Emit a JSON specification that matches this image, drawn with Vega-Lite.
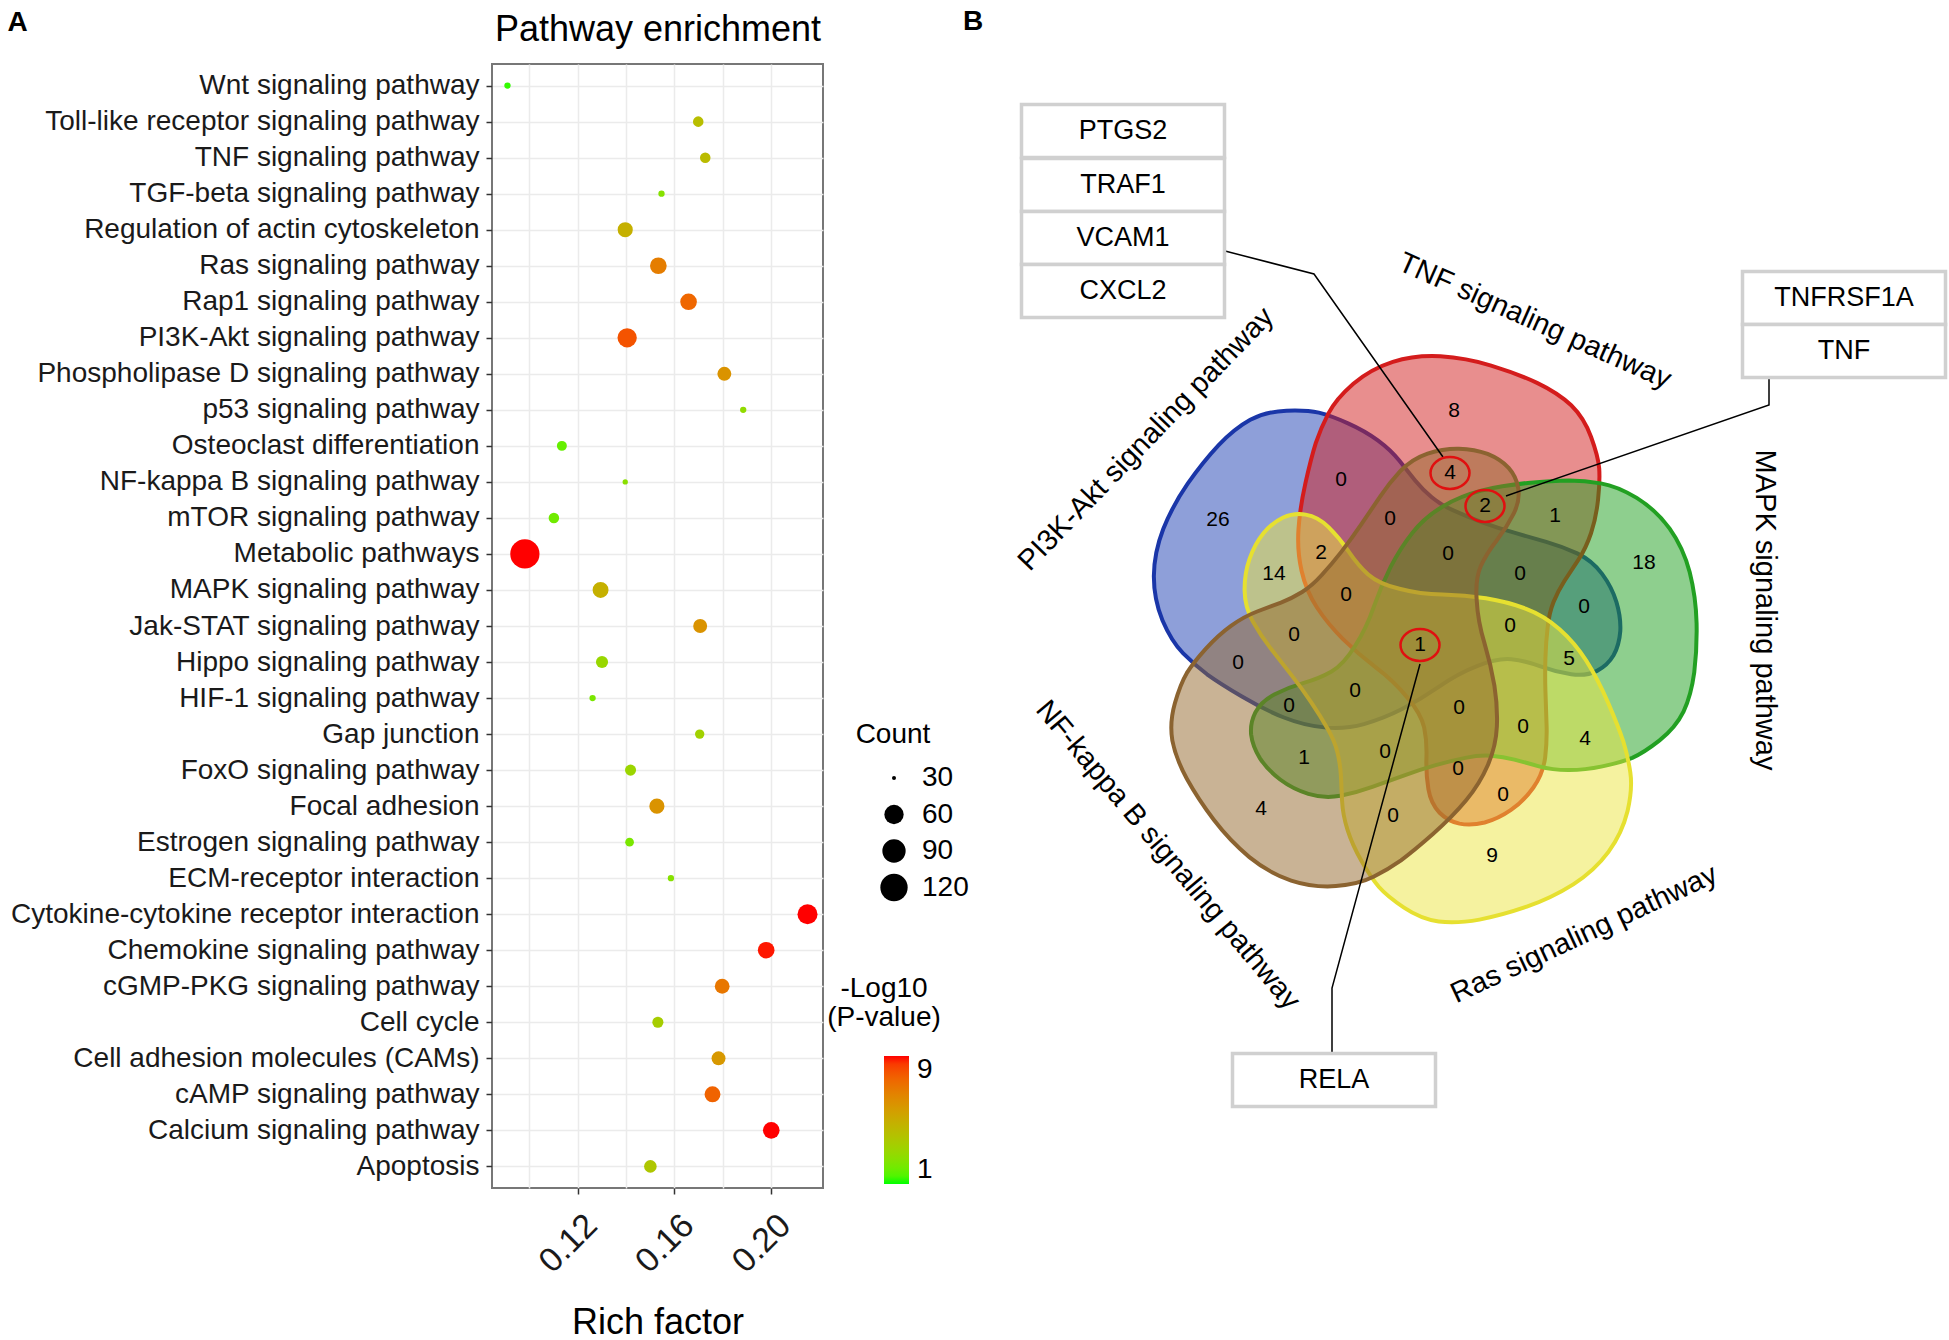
{
  "$schema": "https://vega.github.io/schema/vega-lite/v6.json",
  "padding": {"left": 6, "top": 7, "right": 0, "bottom": 0},
  "background": "white",
  "spacing": 138,
  "bounds": "flush",
  "config": {
    "font": "Liberation Sans",
    "view": {"stroke": "#777777", "strokeWidth": 2},
    "axis": {"labelFont": "Liberation Sans", "titleFont": "Liberation Sans"},
    "legend": {"labelFont": "Liberation Sans", "titleFont": "Liberation Sans"},
    "title": {"font": "Liberation Sans"},
    "text": {"font": "Liberation Sans"}
  },
  "datasets": {
    "enrich": [
      {"pathway": "Wnt signaling pathway", "rich": 0.0910, "count": 32, "logp": 1.2},
      {"pathway": "Toll-like receptor signaling pathway", "rich": 0.1699, "count": 38, "logp": 4.2},
      {"pathway": "TNF signaling pathway", "rich": 0.1728, "count": 38, "logp": 4.3},
      {"pathway": "TGF-beta signaling pathway", "rich": 0.1547, "count": 32, "logp": 2.5},
      {"pathway": "Regulation of actin cytoskeleton", "rich": 0.1397, "count": 48, "logp": 4.8},
      {"pathway": "Ras signaling pathway", "rich": 0.1534, "count": 52, "logp": 6.8},
      {"pathway": "Rap1 signaling pathway", "rich": 0.1659, "count": 52, "logp": 7.5},
      {"pathway": "PI3K-Akt signaling pathway", "rich": 0.1405, "count": 60, "logp": 8.0},
      {"pathway": "Phospholipase D signaling pathway", "rich": 0.1807, "count": 45, "logp": 6.0},
      {"pathway": "p53 signaling pathway", "rich": 0.1885, "count": 32, "logp": 2.8},
      {"pathway": "Osteoclast differentiation", "rich": 0.1135, "count": 37, "logp": 1.8},
      {"pathway": "NF-kappa B signaling pathway", "rich": 0.1397, "count": 31, "logp": 2.6},
      {"pathway": "mTOR signaling pathway", "rich": 0.1102, "count": 38, "logp": 2.0},
      {"pathway": "Metabolic pathways", "rich": 0.0982, "count": 134, "logp": 9.0},
      {"pathway": "MAPK signaling pathway", "rich": 0.1295, "count": 50, "logp": 4.8},
      {"pathway": "Jak-STAT signaling pathway", "rich": 0.1707, "count": 45, "logp": 6.0},
      {"pathway": "Hippo signaling pathway", "rich": 0.1301, "count": 41, "logp": 3.0},
      {"pathway": "HIF-1 signaling pathway", "rich": 0.1262, "count": 32, "logp": 2.2},
      {"pathway": "Gap junction", "rich": 0.1705, "count": 36, "logp": 3.3},
      {"pathway": "FoxO signaling pathway", "rich": 0.1419, "count": 39, "logp": 3.1},
      {"pathway": "Focal adhesion", "rich": 0.1528, "count": 48, "logp": 6.0},
      {"pathway": "Estrogen signaling pathway", "rich": 0.1415, "count": 35, "logp": 2.2},
      {"pathway": "ECM-receptor interaction", "rich": 0.1586, "count": 32, "logp": 2.5},
      {"pathway": "Cytokine-cytokine receptor interaction", "rich": 0.2151, "count": 65, "logp": 9.0},
      {"pathway": "Chemokine signaling pathway", "rich": 0.1980, "count": 52, "logp": 8.9},
      {"pathway": "cGMP-PKG signaling pathway", "rich": 0.1798, "count": 47, "logp": 7.0},
      {"pathway": "Cell cycle", "rich": 0.1532, "count": 39, "logp": 3.5},
      {"pathway": "Cell adhesion molecules (CAMs)", "rich": 0.1783, "count": 45, "logp": 5.8},
      {"pathway": "cAMP signaling pathway", "rich": 0.1758, "count": 50, "logp": 7.6},
      {"pathway": "Calcium signaling pathway", "rich": 0.2001, "count": 52, "logp": 9.0},
      {"pathway": "Apoptosis", "rich": 0.1501, "count": 42, "logp": 3.8}
    ],
    "sets": [
      {"set": "PI3K-Akt signaling pathway", "pos": 4, "cx": 1415, "cy": 639, "lx": 1145, "ly": 438},
      {"set": "TNF signaling pathway", "pos": 0, "cx": 1412, "cy": 630, "lx": 1534, "ly": 320},
      {"set": "MAPK signaling pathway", "pos": 1, "cx": 1419, "cy": 630, "lx": 1764, "ly": 609},
      {"set": "Ras signaling pathway", "pos": 2, "cx": 1433, "cy": 645, "lx": 1583, "ly": 933},
      {"set": "NF-kappa B signaling pathway", "pos": 3, "cx": 1432, "cy": 650, "lx": 1167, "ly": 854}
    ],
    "counts": [
      {"n": 8, "x": 1453, "y": 410, "hl": 0},
      {"n": 4, "x": 1449, "y": 472, "hl": 1},
      {"n": 0, "x": 1340, "y": 479, "hl": 0},
      {"n": 26, "x": 1217, "y": 519, "hl": 0},
      {"n": 2, "x": 1484, "y": 505, "hl": 1},
      {"n": 1, "x": 1554, "y": 515, "hl": 0},
      {"n": 0, "x": 1389, "y": 518, "hl": 0},
      {"n": 2, "x": 1320, "y": 552, "hl": 0},
      {"n": 14, "x": 1273, "y": 573, "hl": 0},
      {"n": 0, "x": 1447, "y": 553, "hl": 0},
      {"n": 18, "x": 1643, "y": 562, "hl": 0},
      {"n": 0, "x": 1519, "y": 573, "hl": 0},
      {"n": 0, "x": 1345, "y": 594, "hl": 0},
      {"n": 0, "x": 1583, "y": 606, "hl": 0},
      {"n": 0, "x": 1293, "y": 634, "hl": 0},
      {"n": 0, "x": 1509, "y": 625, "hl": 0},
      {"n": 1, "x": 1419, "y": 644, "hl": 1},
      {"n": 0, "x": 1237, "y": 662, "hl": 0},
      {"n": 5, "x": 1568, "y": 658, "hl": 0},
      {"n": 0, "x": 1354, "y": 690, "hl": 0},
      {"n": 0, "x": 1288, "y": 705, "hl": 0},
      {"n": 0, "x": 1458, "y": 707, "hl": 0},
      {"n": 0, "x": 1522, "y": 726, "hl": 0},
      {"n": 1, "x": 1303, "y": 757, "hl": 0},
      {"n": 0, "x": 1384, "y": 751, "hl": 0},
      {"n": 4, "x": 1584, "y": 738, "hl": 0},
      {"n": 0, "x": 1457, "y": 768, "hl": 0},
      {"n": 0, "x": 1502, "y": 794, "hl": 0},
      {"n": 4, "x": 1260, "y": 808, "hl": 0},
      {"n": 0, "x": 1392, "y": 815, "hl": 0},
      {"n": 9, "x": 1491, "y": 855, "hl": 0}
    ],
    "leaders": [
      {"line": "a", "seq": 1, "x": 1224, "y": 250},
      {"line": "a", "seq": 2, "x": 1313, "y": 273},
      {"line": "a", "seq": 3, "x": 1442, "y": 456},
      {"line": "b", "seq": 1, "x": 1768, "y": 378},
      {"line": "b", "seq": 2, "x": 1768, "y": 404},
      {"line": "b", "seq": 3, "x": 1505, "y": 495},
      {"line": "c", "seq": 1, "x": 1331, "y": 1053},
      {"line": "c", "seq": 2, "x": 1331, "y": 987},
      {"line": "c", "seq": 3, "x": 1419, "y": 663}
    ],
    "genes": [
      {"gene": "PTGS2", "x": 1122, "y": 130},
      {"gene": "TRAF1", "x": 1122, "y": 184},
      {"gene": "VCAM1", "x": 1122, "y": 237},
      {"gene": "CXCL2", "x": 1122, "y": 290},
      {"gene": "TNFRSF1A", "x": 1843, "y": 297},
      {"gene": "TNF", "x": 1843, "y": 350},
      {"gene": "RELA", "x": 1333, "y": 1079}
    ],
    "panel": [
      {"t": "B", "x": 962, "y": 7}
    ]
  },
  "hconcat": [
    {
      "width": 331,
      "height": 1124,
      "data": {"name": "enrich"},
      "resolve": {"axis": {"x": "independent"}},
      "layer": [
        {
          "mark": {"type": "circle", "opacity": 1},
          "encoding": {
            "y": {
              "field": "pathway", "type": "nominal", "sort": null,
              "scale": {"type": "point", "padding": 0.6},
              "axis": {
                "title": "A", "titleAngle": 0, "titleX": -485, "titleY": -56, "titleAlign": "left", "titleBaseline": "top",
                "titleFontSize": 28, "titleFontWeight": "bold", "titleColor": "#000000",
                "labelFontSize": 28, "labelColor": "#1a1a1a", "labelPadding": 7, "labelLimit": 800, "labelOverlap": false,
                "tickSize": 6, "tickColor": "#333333", "tickWidth": 1.5,
                "domain": false, "grid": true, "gridColor": "#ebebeb", "gridWidth": 1.5
              }
            },
            "x": {
              "field": "rich", "type": "quantitative",
              "scale": {"domain": [0.0846, 0.2215], "nice": false, "zero": false},
              "axis": {
                "orient": "bottom",
                "values": [0.10, 0.12, 0.14, 0.16, 0.18, 0.20],
                "labelExpr": "round(datum.value*100) % 4 == 0 ? format(datum.value, '.2f') : ''",
                "tickOpacity": {"condition": {"test": "round(datum.value*100) % 4 == 0", "value": 1}, "value": 0},
                "labelAngle": -45, "labelAlign": "right", "labelBaseline": "top", "labelFontSize": 34, "labelColor": "#1a1a1a",
                "labelPadding": 14, "labelOffset": 2, "labelFlush": false, "labelOverlap": false,
                "tickSize": 6, "tickColor": "#333333", "tickWidth": 1.5,
                "domain": false, "grid": true, "gridColor": "#ebebeb", "gridWidth": 1.5,
                "title": "Rich factor", "titleFontSize": 36, "titleFontWeight": "normal", "titleColor": "#000000",
                "titleY": 145, "titleBaseline": "alphabetic"
              }
            },
            "size": {
              "field": "count", "type": "quantitative",
              "scale": {"domain": [29, 30, 60, 90, 120, 150], "range": [3.8, 16, 372.5, 542.9, 745.2, 979.6]},
              "legend": {
                "title": "Count", "orient": "none", "legendX": 364, "legendY": 657, "values": [30, 60, 90, 120],
                "titleFontSize": 28, "titleFontWeight": "normal", "titleColor": "#000000", "titleAlign": "center", "titleAnchor": "start", "titlePadding": 15,
                "labelFontSize": 28, "labelColor": "#000000", "labelOffset": 14, "symbolOffset": -13, "rowPadding": 8.5,
                "symbolFillColor": "#000000", "symbolStrokeWidth": 0, "symbolType": "circle", "symbolOpacity": 1
              }
            },
            "color": {
              "field": "logp", "type": "quantitative",
              "scale": {"domain": [1, 9], "range": ["#00ff00", "#ff0000"], "interpolate": "lab", "clamp": true},
              "legend": {
                "title": ["-Log10", "(P-value)"], "orient": "none", "legendX": 335, "legendY": 911, "direction": "vertical",
                "values": [1, 9], "gradientLength": 128, "gradientThickness": 25, "gradientStrokeWidth": 0,
                "titleFontSize": 28, "titleFontWeight": "normal", "titleColor": "#000000", "titleAlign": "center", "titleAnchor": "start",
                "titleLineHeight": 29, "titlePadding": 24,
                "labelFontSize": 28, "labelColor": "#000000", "labelOffset": 8
              }
            }
          }
        },
        {
          "mark": {"type": "circle", "opacity": 0},
          "encoding": {
            "x": {
              "field": "rich", "type": "quantitative",
              "scale": {"domain": [0.0846, 0.2215], "nice": false, "zero": false},
              "axis": {
                "orient": "top", "labels": false, "ticks": false, "domain": false, "grid": false,
                "title": "Pathway enrichment", "titleFontSize": 36, "titleFontWeight": "normal", "titleColor": "#000000",
                "titleY": -24, "titleBaseline": "alphabetic"
              }
            }
          }
        }
      ]
    },
    {
      "width": 989,
      "height": 1277,
      "view": {"stroke": null},
      "resolve": {"scale": {"angle": "independent"}},
      "layer": [
        {
          "data": {"name": "sets"},
          "mark": {
            "type": "point",
            "shape": "M-0.072,-0.961 Q0.007,-0.986 0.098,-0.981 Q0.189,-0.975 0.279,-0.948 Q0.368,-0.921 0.443,-0.886 Q0.518,-0.850 0.565,-0.806 Q0.611,-0.761 0.636,-0.693 Q0.661,-0.625 0.665,-0.581 Q0.668,-0.536 0.661,-0.470 Q0.654,-0.404 0.636,-0.350 Q0.618,-0.296 0.591,-0.255 Q0.564,-0.214 0.541,-0.179 Q0.518,-0.143 0.502,-0.104 Q0.486,-0.064 0.481,-0.014 Q0.475,0.036 0.473,0.095 Q0.471,0.154 0.473,0.215 Q0.475,0.275 0.477,0.334 Q0.479,0.393 0.472,0.452 Q0.464,0.511 0.430,0.559 Q0.396,0.607 0.350,0.639 Q0.304,0.671 0.256,0.684 Q0.207,0.696 0.166,0.688 Q0.125,0.679 0.095,0.649 Q0.064,0.618 0.055,0.565 Q0.046,0.511 0.048,0.452 Q0.050,0.393 0.040,0.345 Q0.029,0.296 -0.020,0.238 Q-0.068,0.179 -0.132,0.131 Q-0.196,0.082 -0.250,0.029 Q-0.304,-0.025 -0.343,-0.084 Q-0.382,-0.143 -0.398,-0.215 Q-0.414,-0.286 -0.409,-0.363 Q-0.404,-0.439 -0.384,-0.529 Q-0.364,-0.618 -0.347,-0.672 Q-0.329,-0.725 -0.302,-0.777 Q-0.275,-0.829 -0.213,-0.883 Q-0.150,-0.936 -0.072,-0.961 Z",
            "filled": true, "size": 313600, "fillOpacity": 0.5, "strokeOpacity": 1, "strokeWidth": 4
          },
          "encoding": {
            "x": {"field": "cx", "type": "quantitative", "scale": {"domain": [960, 1949], "nice": false, "zero": false}, "axis": null},
            "y": {"field": "cy", "type": "quantitative", "scale": {"domain": [63, 1340], "nice": false, "zero": false, "reverse": true}, "axis": null},
            "angle": {"field": "pos", "type": "quantitative", "scale": {"domain": [0, 5], "range": [0, 360]}},
            "fill": {"field": "set", "type": "nominal", "legend": null,
              "scale": {"domain": ["PI3K-Akt signaling pathway", "TNF signaling pathway", "NF-kappa B signaling pathway", "MAPK signaling pathway", "Ras signaling pathway"],
                        "range": ["#1e40b4", "#d21e1e", "#93682c", "#1ea01e", "#ece640"]}},
            "stroke": {"field": "set", "type": "nominal", "legend": null,
              "scale": {"domain": ["PI3K-Akt signaling pathway", "TNF signaling pathway", "NF-kappa B signaling pathway", "MAPK signaling pathway", "Ras signaling pathway"],
                        "range": ["#1a36a8", "#d41c1c", "#8b6330", "#22a022", "#e6e030"]}}
          }
        },
        {
          "data": {"name": "leaders"},
          "mark": {"type": "line", "color": "#000000", "strokeWidth": 1.5},
          "encoding": {
            "x": {"field": "x", "type": "quantitative", "scale": {"domain": [960, 1949], "nice": false, "zero": false}, "axis": null},
            "y": {"field": "y", "type": "quantitative", "scale": {"domain": [63, 1340], "nice": false, "zero": false, "reverse": true}, "axis": null},
            "detail": {"field": "line", "type": "nominal"},
            "order": {"field": "seq", "type": "quantitative"}
          }
        },
        {
          "data": {"name": "genes"},
          "mark": {"type": "point", "shape": "M-1,-0.26L1,-0.26L1,0.26L-1,0.26Z", "filled": true, "fill": "#ffffff", "stroke": "#d0d0d0", "strokeWidth": 3.5, "size": 41209, "opacity": 1},
          "encoding": {
            "x": {"field": "x", "type": "quantitative", "scale": {"domain": [960, 1949], "nice": false, "zero": false}, "axis": null},
            "y": {"field": "y", "type": "quantitative", "scale": {"domain": [63, 1340], "nice": false, "zero": false, "reverse": true}, "axis": null}
          }
        },
        {
          "data": {"name": "genes"},
          "mark": {"type": "text", "fontSize": 27, "align": "center", "baseline": "middle", "color": "#000000"},
          "encoding": {
            "x": {"field": "x", "type": "quantitative", "scale": {"domain": [960, 1949], "nice": false, "zero": false}, "axis": null},
            "y": {"field": "y", "type": "quantitative", "scale": {"domain": [63, 1340], "nice": false, "zero": false, "reverse": true}, "axis": null},
            "text": {"field": "gene", "type": "nominal"}
          }
        },
        {
          "data": {"name": "counts"},
          "mark": {"type": "text", "fontSize": 21, "align": "center", "baseline": "middle", "color": "#000000"},
          "encoding": {
            "x": {"field": "x", "type": "quantitative", "scale": {"domain": [960, 1949], "nice": false, "zero": false}, "axis": null},
            "y": {"field": "y", "type": "quantitative", "scale": {"domain": [63, 1340], "nice": false, "zero": false, "reverse": true}, "axis": null},
            "text": {"field": "n", "type": "quantitative", "format": "d"}
          }
        },
        {
          "data": {"name": "counts"},
          "transform": [{"filter": "datum.hl == 1"}],
          "mark": {"type": "point", "shape": "M-1,0 A1,0.82 0 1,1 1,0 A1,0.82 0 1,1 -1,0 Z", "filled": false, "stroke": "#e01010", "strokeWidth": 2.5, "size": 1521, "opacity": 1},
          "encoding": {
            "x": {"field": "x", "type": "quantitative", "scale": {"domain": [960, 1949], "nice": false, "zero": false}, "axis": null},
            "y": {"field": "y", "type": "quantitative", "scale": {"domain": [63, 1340], "nice": false, "zero": false, "reverse": true}, "axis": null}
          }
        },
        {
          "data": {"name": "sets"},
          "mark": {"type": "text", "fontSize": 29, "align": "center", "baseline": "middle", "color": "#000000"},
          "encoding": {
            "x": {"field": "lx", "type": "quantitative", "scale": {"domain": [960, 1949], "nice": false, "zero": false}, "axis": null},
            "y": {"field": "ly", "type": "quantitative", "scale": {"domain": [63, 1340], "nice": false, "zero": false, "reverse": true}, "axis": null},
            "text": {"field": "set", "type": "nominal"},
            "angle": {"field": "pos", "type": "quantitative", "scale": {"domain": [0, 1, 2, 3, 4], "range": [24, 90, -25, 50, -46]}}
          }
        },
        {
          "data": {"name": "panel"},
          "mark": {"type": "text", "fontSize": 28, "fontWeight": "bold", "align": "left", "baseline": "top", "color": "#000000"},
          "encoding": {
            "x": {"field": "x", "type": "quantitative", "scale": {"domain": [960, 1949], "nice": false, "zero": false}, "axis": null},
            "y": {"field": "y", "type": "quantitative", "scale": {"domain": [63, 1340], "nice": false, "zero": false, "reverse": true}, "axis": null},
            "text": {"field": "t", "type": "nominal"}
          }
        }
      ]
    }
  ]
}
